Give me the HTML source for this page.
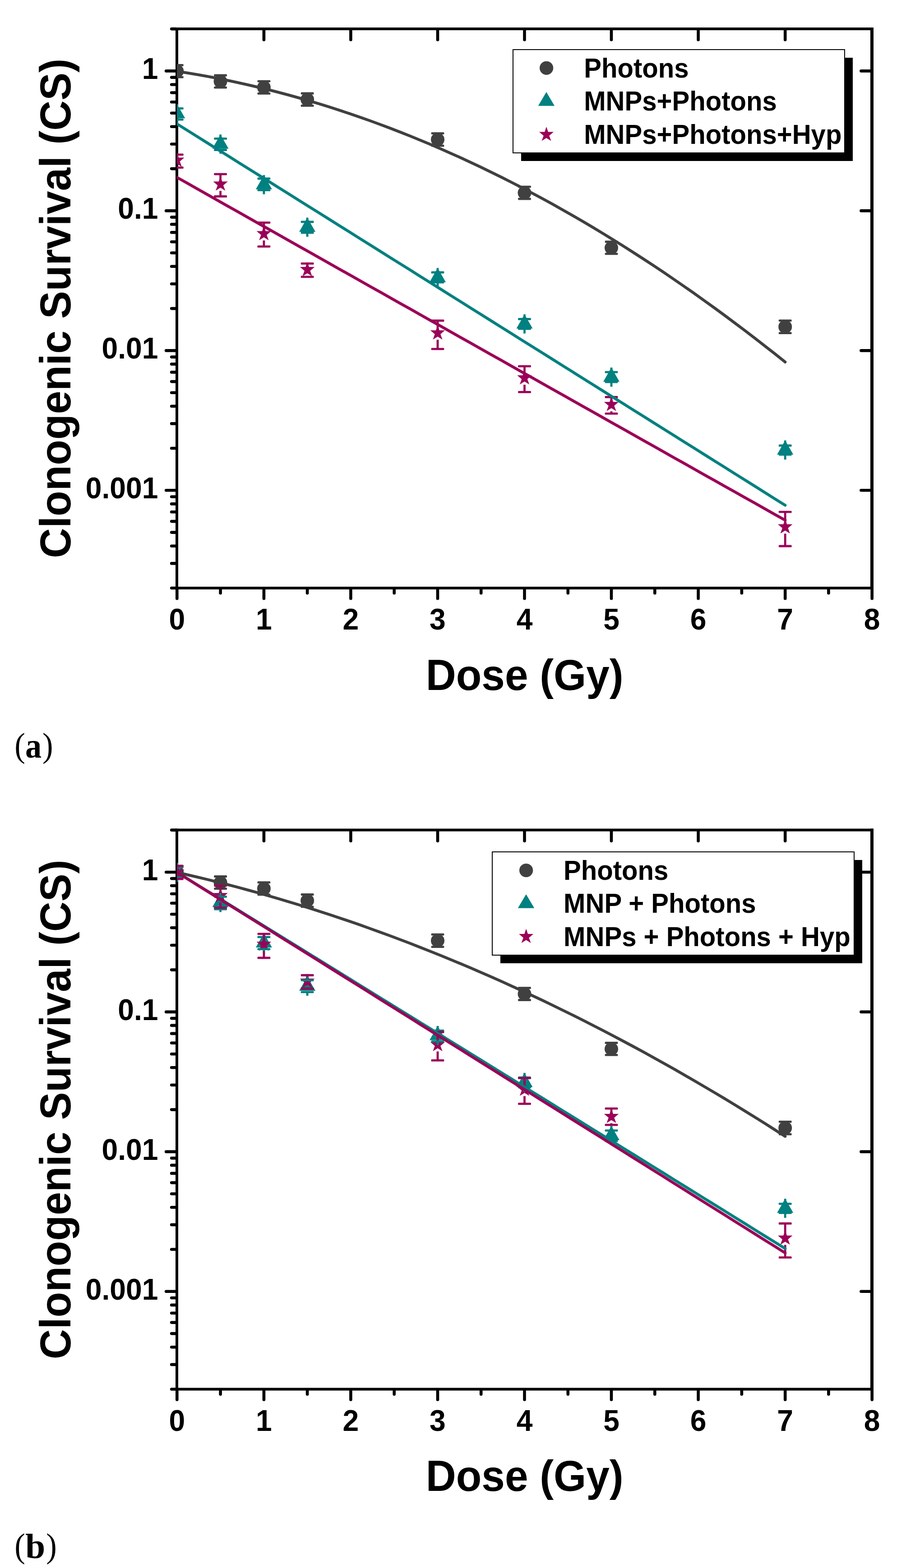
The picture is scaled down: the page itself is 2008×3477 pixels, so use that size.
<!DOCTYPE html>
<html lang="en"><head><meta charset="utf-8"><title>Clonogenic survival</title>
<style>
html,body{margin:0;padding:0;background:#fff;}
body{width:2008px;height:3477px;overflow:hidden;}
svg{display:block;}
</style></head><body>
<svg width="2008" height="3477" viewBox="0 0 2008 3477" role="img" aria-label="Clonogenic survival versus dose, panels a and b">
<defs>
<clipPath id="cpa"><rect x="392" y="61" width="1544" height="1246"/></clipPath>
<clipPath id="cpb"><rect x="392" y="1837.5" width="1544" height="1246"/></clipPath>
</defs>
<rect width="2008" height="3477" fill="#fff"/>
<g>
<rect x="389" y="61.0" width="6" height="1246.0" fill="#000"/>
<rect x="1929" y="61.0" width="7" height="1246.0" fill="#000"/>
<rect x="389" y="61.0" width="1547" height="6" fill="#000"/>
<rect x="389" y="1301.0" width="1547" height="6" fill="#000"/>
<line x1="368.2" y1="157.4" x2="390" y2="157.4" stroke="#000" stroke-width="6.6" stroke-linecap="round"/>
<line x1="1908.5" y1="157.4" x2="1931" y2="157.4" stroke="#000" stroke-width="6.6" stroke-linecap="round"/>
<line x1="368.2" y1="467.4" x2="390" y2="467.4" stroke="#000" stroke-width="6.6" stroke-linecap="round"/>
<line x1="1908.5" y1="467.4" x2="1931" y2="467.4" stroke="#000" stroke-width="6.6" stroke-linecap="round"/>
<line x1="368.2" y1="777.4" x2="390" y2="777.4" stroke="#000" stroke-width="6.6" stroke-linecap="round"/>
<line x1="1908.5" y1="777.4" x2="1931" y2="777.4" stroke="#000" stroke-width="6.6" stroke-linecap="round"/>
<line x1="368.2" y1="1087.3" x2="390" y2="1087.3" stroke="#000" stroke-width="6.6" stroke-linecap="round"/>
<line x1="1908.5" y1="1087.3" x2="1931" y2="1087.3" stroke="#000" stroke-width="6.6" stroke-linecap="round"/>
<line x1="380.2" y1="64.1" x2="390" y2="64.1" stroke="#000" stroke-width="6.6" stroke-linecap="round"/>
<line x1="380.2" y1="374.1" x2="390" y2="374.1" stroke="#000" stroke-width="6.6" stroke-linecap="round"/>
<line x1="380.2" y1="319.5" x2="390" y2="319.5" stroke="#000" stroke-width="6.6" stroke-linecap="round"/>
<line x1="380.2" y1="280.8" x2="390" y2="280.8" stroke="#000" stroke-width="6.6" stroke-linecap="round"/>
<line x1="380.2" y1="250.8" x2="390" y2="250.8" stroke="#000" stroke-width="6.6" stroke-linecap="round"/>
<line x1="380.2" y1="226.2" x2="390" y2="226.2" stroke="#000" stroke-width="6.6" stroke-linecap="round"/>
<line x1="380.2" y1="205.5" x2="390" y2="205.5" stroke="#000" stroke-width="6.6" stroke-linecap="round"/>
<line x1="380.2" y1="187.5" x2="390" y2="187.5" stroke="#000" stroke-width="6.6" stroke-linecap="round"/>
<line x1="380.2" y1="171.6" x2="390" y2="171.6" stroke="#000" stroke-width="6.6" stroke-linecap="round"/>
<line x1="380.2" y1="684.1" x2="390" y2="684.1" stroke="#000" stroke-width="6.6" stroke-linecap="round"/>
<line x1="380.2" y1="629.5" x2="390" y2="629.5" stroke="#000" stroke-width="6.6" stroke-linecap="round"/>
<line x1="380.2" y1="590.8" x2="390" y2="590.8" stroke="#000" stroke-width="6.6" stroke-linecap="round"/>
<line x1="380.2" y1="560.7" x2="390" y2="560.7" stroke="#000" stroke-width="6.6" stroke-linecap="round"/>
<line x1="380.2" y1="536.2" x2="390" y2="536.2" stroke="#000" stroke-width="6.6" stroke-linecap="round"/>
<line x1="380.2" y1="515.4" x2="390" y2="515.4" stroke="#000" stroke-width="6.6" stroke-linecap="round"/>
<line x1="380.2" y1="497.4" x2="390" y2="497.4" stroke="#000" stroke-width="6.6" stroke-linecap="round"/>
<line x1="380.2" y1="481.6" x2="390" y2="481.6" stroke="#000" stroke-width="6.6" stroke-linecap="round"/>
<line x1="380.2" y1="994.0" x2="390" y2="994.0" stroke="#000" stroke-width="6.6" stroke-linecap="round"/>
<line x1="380.2" y1="939.4" x2="390" y2="939.4" stroke="#000" stroke-width="6.6" stroke-linecap="round"/>
<line x1="380.2" y1="900.7" x2="390" y2="900.7" stroke="#000" stroke-width="6.6" stroke-linecap="round"/>
<line x1="380.2" y1="870.7" x2="390" y2="870.7" stroke="#000" stroke-width="6.6" stroke-linecap="round"/>
<line x1="380.2" y1="846.1" x2="390" y2="846.1" stroke="#000" stroke-width="6.6" stroke-linecap="round"/>
<line x1="380.2" y1="825.4" x2="390" y2="825.4" stroke="#000" stroke-width="6.6" stroke-linecap="round"/>
<line x1="380.2" y1="807.4" x2="390" y2="807.4" stroke="#000" stroke-width="6.6" stroke-linecap="round"/>
<line x1="380.2" y1="791.6" x2="390" y2="791.6" stroke="#000" stroke-width="6.6" stroke-linecap="round"/>
<line x1="380.2" y1="1304.0" x2="390" y2="1304.0" stroke="#000" stroke-width="6.6" stroke-linecap="round"/>
<line x1="380.2" y1="1249.4" x2="390" y2="1249.4" stroke="#000" stroke-width="6.6" stroke-linecap="round"/>
<line x1="380.2" y1="1210.7" x2="390" y2="1210.7" stroke="#000" stroke-width="6.6" stroke-linecap="round"/>
<line x1="380.2" y1="1180.6" x2="390" y2="1180.6" stroke="#000" stroke-width="6.6" stroke-linecap="round"/>
<line x1="380.2" y1="1156.1" x2="390" y2="1156.1" stroke="#000" stroke-width="6.6" stroke-linecap="round"/>
<line x1="380.2" y1="1135.3" x2="390" y2="1135.3" stroke="#000" stroke-width="6.6" stroke-linecap="round"/>
<line x1="380.2" y1="1117.4" x2="390" y2="1117.4" stroke="#000" stroke-width="6.6" stroke-linecap="round"/>
<line x1="380.2" y1="1101.5" x2="390" y2="1101.5" stroke="#000" stroke-width="6.6" stroke-linecap="round"/>
<line x1="392.3" y1="1305.0" x2="392.3" y2="1327.3" stroke="#000" stroke-width="6.6" stroke-linecap="round"/>
<line x1="584.9" y1="65.0" x2="584.9" y2="88.3" stroke="#000" stroke-width="6.6" stroke-linecap="round"/>
<line x1="584.9" y1="1305.0" x2="584.9" y2="1327.3" stroke="#000" stroke-width="6.6" stroke-linecap="round"/>
<line x1="777.4" y1="65.0" x2="777.4" y2="88.3" stroke="#000" stroke-width="6.6" stroke-linecap="round"/>
<line x1="777.4" y1="1305.0" x2="777.4" y2="1327.3" stroke="#000" stroke-width="6.6" stroke-linecap="round"/>
<line x1="970.0" y1="65.0" x2="970.0" y2="88.3" stroke="#000" stroke-width="6.6" stroke-linecap="round"/>
<line x1="970.0" y1="1305.0" x2="970.0" y2="1327.3" stroke="#000" stroke-width="6.6" stroke-linecap="round"/>
<line x1="1162.5" y1="65.0" x2="1162.5" y2="88.3" stroke="#000" stroke-width="6.6" stroke-linecap="round"/>
<line x1="1162.5" y1="1305.0" x2="1162.5" y2="1327.3" stroke="#000" stroke-width="6.6" stroke-linecap="round"/>
<line x1="1355.0" y1="65.0" x2="1355.0" y2="88.3" stroke="#000" stroke-width="6.6" stroke-linecap="round"/>
<line x1="1355.0" y1="1305.0" x2="1355.0" y2="1327.3" stroke="#000" stroke-width="6.6" stroke-linecap="round"/>
<line x1="1547.6" y1="65.0" x2="1547.6" y2="88.3" stroke="#000" stroke-width="6.6" stroke-linecap="round"/>
<line x1="1547.6" y1="1305.0" x2="1547.6" y2="1327.3" stroke="#000" stroke-width="6.6" stroke-linecap="round"/>
<line x1="1740.2" y1="65.0" x2="1740.2" y2="88.3" stroke="#000" stroke-width="6.6" stroke-linecap="round"/>
<line x1="1740.2" y1="1305.0" x2="1740.2" y2="1327.3" stroke="#000" stroke-width="6.6" stroke-linecap="round"/>
<line x1="1932.7" y1="1305.0" x2="1932.7" y2="1327.3" stroke="#000" stroke-width="6.6" stroke-linecap="round"/>
<line x1="488.6" y1="1305.0" x2="488.6" y2="1315.3" stroke="#000" stroke-width="6.6" stroke-linecap="round"/>
<line x1="681.1" y1="1305.0" x2="681.1" y2="1315.3" stroke="#000" stroke-width="6.6" stroke-linecap="round"/>
<line x1="873.7" y1="1305.0" x2="873.7" y2="1315.3" stroke="#000" stroke-width="6.6" stroke-linecap="round"/>
<line x1="1066.2" y1="1305.0" x2="1066.2" y2="1315.3" stroke="#000" stroke-width="6.6" stroke-linecap="round"/>
<line x1="1258.8" y1="1305.0" x2="1258.8" y2="1315.3" stroke="#000" stroke-width="6.6" stroke-linecap="round"/>
<line x1="1451.3" y1="1305.0" x2="1451.3" y2="1315.3" stroke="#000" stroke-width="6.6" stroke-linecap="round"/>
<line x1="1643.9" y1="1305.0" x2="1643.9" y2="1315.3" stroke="#000" stroke-width="6.6" stroke-linecap="round"/>
<line x1="1836.4" y1="1305.0" x2="1836.4" y2="1315.3" stroke="#000" stroke-width="6.6" stroke-linecap="round"/>
<text transform="translate(350.50,175.45) scale(0.96,1)" font-size="66.9" text-anchor="end" font-family="'Liberation Sans', sans-serif" font-weight="bold" xml:space="preserve">1</text>
<text transform="translate(350.50,485.41) scale(0.96,1)" font-size="66.9" text-anchor="end" font-family="'Liberation Sans', sans-serif" font-weight="bold" xml:space="preserve">0.1</text>
<text transform="translate(350.50,795.37) scale(0.96,1)" font-size="66.9" text-anchor="end" font-family="'Liberation Sans', sans-serif" font-weight="bold" xml:space="preserve">0.01</text>
<text transform="translate(350.50,1105.33) scale(0.96,1)" font-size="66.9" text-anchor="end" font-family="'Liberation Sans', sans-serif" font-weight="bold" xml:space="preserve">0.001</text>
<text transform="translate(392.30,1396.00) scale(0.96,1)" font-size="66.9" text-anchor="middle" font-family="'Liberation Sans', sans-serif" font-weight="bold" xml:space="preserve">0</text>
<text transform="translate(584.85,1396.00) scale(0.96,1)" font-size="66.9" text-anchor="middle" font-family="'Liberation Sans', sans-serif" font-weight="bold" xml:space="preserve">1</text>
<text transform="translate(777.40,1396.00) scale(0.96,1)" font-size="66.9" text-anchor="middle" font-family="'Liberation Sans', sans-serif" font-weight="bold" xml:space="preserve">2</text>
<text transform="translate(969.95,1396.00) scale(0.96,1)" font-size="66.9" text-anchor="middle" font-family="'Liberation Sans', sans-serif" font-weight="bold" xml:space="preserve">3</text>
<text transform="translate(1162.50,1396.00) scale(0.96,1)" font-size="66.9" text-anchor="middle" font-family="'Liberation Sans', sans-serif" font-weight="bold" xml:space="preserve">4</text>
<text transform="translate(1355.05,1396.00) scale(0.96,1)" font-size="66.9" text-anchor="middle" font-family="'Liberation Sans', sans-serif" font-weight="bold" xml:space="preserve">5</text>
<text transform="translate(1547.60,1396.00) scale(0.96,1)" font-size="66.9" text-anchor="middle" font-family="'Liberation Sans', sans-serif" font-weight="bold" xml:space="preserve">6</text>
<text transform="translate(1740.15,1396.00) scale(0.96,1)" font-size="66.9" text-anchor="middle" font-family="'Liberation Sans', sans-serif" font-weight="bold" xml:space="preserve">7</text>
<text transform="translate(1932.70,1396.00) scale(0.96,1)" font-size="66.9" text-anchor="middle" font-family="'Liberation Sans', sans-serif" font-weight="bold" xml:space="preserve">8</text>
<text transform="translate(1162.70,1529.70) scale(0.96,1)" font-size="96.6" text-anchor="middle" font-family="'Liberation Sans', sans-serif" font-weight="bold" xml:space="preserve">Dose (Gy)</text>
<text transform="translate(156.20,683.80) rotate(-90) scale(0.96,1)" font-size="96.6" text-anchor="middle" font-family="'Liberation Sans', sans-serif" font-weight="bold" xml:space="preserve">Clonogenic Survival (CS)</text>
<g clip-path="url(#cpa)">
<circle cx="392.3" cy="157.8" r="15" fill="#404040"/>
<circle cx="488.6" cy="180.6" r="15" fill="#404040"/>
<circle cx="584.9" cy="193.8" r="15" fill="#404040"/>
<circle cx="681.1" cy="220.6" r="15" fill="#404040"/>
<circle cx="970.0" cy="309.4" r="15" fill="#404040"/>
<circle cx="1162.5" cy="427.5" r="15" fill="#404040"/>
<circle cx="1355.0" cy="549.5" r="15" fill="#404040"/>
<circle cx="1740.2" cy="724.7" r="15" fill="#404040"/>
<polygon points="392.3,230.8 410.3,262.3 374.3,262.3" fill="#008080"/>
<polygon points="488.6,298.2 506.6,329.7 470.6,329.7" fill="#008080"/>
<polygon points="584.9,388.2 602.9,419.7 566.9,419.7" fill="#008080"/>
<polygon points="681.1,482.6 699.1,514.1 663.1,514.1" fill="#008080"/>
<polygon points="970.0,594.2 988.0,625.7 952.0,625.7" fill="#008080"/>
<polygon points="1162.5,697.0 1180.5,728.5 1144.5,728.5" fill="#008080"/>
<polygon points="1355.0,815.0 1373.0,846.5 1337.0,846.5" fill="#008080"/>
<polygon points="1740.2,976.6 1758.2,1008.1 1722.2,1008.1" fill="#008080"/>
<polygon points="392.3,338.1 396.2,349.6 408.5,349.6 398.6,358.1 402.9,369.9 392.3,363.4 381.7,369.9 386.0,358.1 376.1,349.6 388.4,349.6" fill="#9B0058"/>
<polygon points="488.6,391.0 492.5,402.5 504.8,402.5 494.9,411.0 499.2,422.8 488.6,416.3 478.0,422.8 482.3,411.0 472.4,402.5 484.7,402.5" fill="#9B0058"/>
<polygon points="584.9,500.9 588.8,512.4 601.1,512.4 591.1,520.9 595.5,532.7 584.9,526.2 574.2,532.7 578.6,520.9 568.6,512.4 581.0,512.4" fill="#9B0058"/>
<polygon points="681.1,580.6 685.0,592.1 697.3,592.1 687.4,600.6 691.7,612.4 681.1,605.9 670.5,612.4 674.8,600.6 664.9,592.1 677.2,592.1" fill="#9B0058"/>
<polygon points="970.0,721.1 973.9,732.6 986.2,732.6 976.2,741.1 980.6,752.9 970.0,746.4 959.4,752.9 963.7,741.1 953.8,732.6 966.1,732.6" fill="#9B0058"/>
<polygon points="1162.5,820.8 1166.4,832.3 1178.7,832.3 1168.8,840.8 1173.1,852.6 1162.5,846.1 1151.9,852.6 1156.2,840.8 1146.3,832.3 1158.6,832.3" fill="#9B0058"/>
<polygon points="1355.0,879.8 1359.0,891.3 1371.2,891.3 1361.3,899.8 1365.6,911.6 1355.0,905.1 1344.5,911.6 1348.8,899.8 1338.8,891.3 1351.1,891.3" fill="#9B0058"/>
<polygon points="1740.2,1151.1 1744.1,1162.6 1756.4,1162.6 1746.5,1171.1 1750.8,1182.9 1740.2,1176.4 1729.6,1182.9 1733.9,1171.1 1724.0,1162.6 1736.2,1162.6" fill="#9B0058"/>
<rect x="377.9" y="142.0" width="28.8" height="4.8" rx="1.5" fill="#404040"/>
<rect x="377.9" y="168.8" width="28.8" height="4.8" rx="1.5" fill="#404040"/>
<rect x="389.9" y="144.4" width="4.8" height="0.4" fill="#404040"/>
<rect x="389.9" y="170.8" width="4.8" height="0.4" fill="#404040"/>
<rect x="474.2" y="164.6" width="28.8" height="4.8" rx="1.5" fill="#404040"/>
<rect x="474.2" y="191.7" width="28.8" height="4.8" rx="1.5" fill="#404040"/>
<rect x="486.2" y="167.0" width="4.8" height="0.6" fill="#404040"/>
<rect x="486.2" y="193.6" width="4.8" height="0.5" fill="#404040"/>
<rect x="570.5" y="177.7" width="28.8" height="4.8" rx="1.5" fill="#404040"/>
<rect x="570.5" y="205.0" width="28.8" height="4.8" rx="1.5" fill="#404040"/>
<rect x="582.5" y="180.1" width="4.8" height="0.7" fill="#404040"/>
<rect x="582.5" y="206.8" width="4.8" height="0.6" fill="#404040"/>
<rect x="666.7" y="204.6" width="28.8" height="4.8" rx="1.5" fill="#404040"/>
<rect x="666.7" y="231.9" width="28.8" height="4.8" rx="1.5" fill="#404040"/>
<rect x="678.7" y="207.0" width="4.8" height="0.6" fill="#404040"/>
<rect x="678.7" y="233.6" width="4.8" height="0.7" fill="#404040"/>
<rect x="955.6" y="293.3" width="28.8" height="4.8" rx="1.5" fill="#404040"/>
<rect x="955.6" y="320.7" width="28.8" height="4.8" rx="1.5" fill="#404040"/>
<rect x="967.6" y="295.7" width="4.8" height="0.7" fill="#404040"/>
<rect x="967.6" y="322.4" width="4.8" height="0.7" fill="#404040"/>
<rect x="1148.1" y="411.7" width="28.8" height="4.8" rx="1.5" fill="#404040"/>
<rect x="1148.1" y="438.6" width="28.8" height="4.8" rx="1.5" fill="#404040"/>
<rect x="1160.1" y="414.1" width="4.8" height="0.4" fill="#404040"/>
<rect x="1160.1" y="440.5" width="4.8" height="0.5" fill="#404040"/>
<rect x="1340.6" y="533.6" width="28.8" height="4.8" rx="1.5" fill="#404040"/>
<rect x="1340.6" y="560.5" width="28.8" height="4.8" rx="1.5" fill="#404040"/>
<rect x="1352.6" y="536.0" width="4.8" height="0.5" fill="#404040"/>
<rect x="1352.6" y="562.5" width="4.8" height="0.4" fill="#404040"/>
<rect x="1725.8" y="708.4" width="28.8" height="4.8" rx="1.5" fill="#404040"/>
<rect x="1725.8" y="736.2" width="28.8" height="4.8" rx="1.5" fill="#404040"/>
<rect x="1737.8" y="710.8" width="4.8" height="0.9" fill="#404040"/>
<rect x="1737.8" y="737.7" width="4.8" height="0.9" fill="#404040"/>
<rect x="377.9" y="238.0" width="28.8" height="4.8" rx="1.5" fill="#008080"/>
<rect x="377.9" y="262.7" width="28.8" height="4.8" rx="1.5" fill="#008080"/>
<rect x="389.9" y="230.8" width="4.8" height="9.6" fill="#008080"/>
<rect x="389.9" y="265.1" width="4.8" height="8.2" fill="#008080"/>
<rect x="474.2" y="305.0" width="28.8" height="4.8" rx="1.5" fill="#008080"/>
<rect x="474.2" y="330.1" width="28.8" height="4.8" rx="1.5" fill="#008080"/>
<rect x="486.2" y="298.2" width="4.8" height="9.2" fill="#008080"/>
<rect x="486.2" y="332.5" width="4.8" height="8.2" fill="#008080"/>
<rect x="570.5" y="393.6" width="28.8" height="4.8" rx="1.5" fill="#008080"/>
<rect x="570.5" y="419.2" width="28.8" height="4.8" rx="1.5" fill="#008080"/>
<rect x="582.5" y="388.2" width="4.8" height="7.8" fill="#008080"/>
<rect x="582.5" y="421.6" width="4.8" height="9.1" fill="#008080"/>
<rect x="666.7" y="489.6" width="28.8" height="4.8" rx="1.5" fill="#008080"/>
<rect x="666.7" y="513.6" width="28.8" height="4.8" rx="1.5" fill="#008080"/>
<rect x="678.7" y="482.6" width="4.8" height="9.4" fill="#008080"/>
<rect x="678.7" y="516.0" width="4.8" height="9.1" fill="#008080"/>
<rect x="955.6" y="601.6" width="28.8" height="4.8" rx="1.5" fill="#008080"/>
<rect x="955.6" y="623.6" width="28.8" height="4.8" rx="1.5" fill="#008080"/>
<rect x="967.6" y="594.2" width="4.8" height="9.8" fill="#008080"/>
<rect x="967.6" y="626.0" width="4.8" height="10.7" fill="#008080"/>
<rect x="1148.1" y="705.1" width="28.8" height="4.8" rx="1.5" fill="#008080"/>
<rect x="1148.1" y="726.6" width="28.8" height="4.8" rx="1.5" fill="#008080"/>
<rect x="1160.1" y="697.0" width="4.8" height="10.5" fill="#008080"/>
<rect x="1160.1" y="729.0" width="4.8" height="10.5" fill="#008080"/>
<rect x="1340.6" y="822.7" width="28.8" height="4.8" rx="1.5" fill="#008080"/>
<rect x="1340.6" y="844.6" width="28.8" height="4.8" rx="1.5" fill="#008080"/>
<rect x="1352.6" y="815.0" width="4.8" height="10.1" fill="#008080"/>
<rect x="1352.6" y="847.0" width="4.8" height="10.5" fill="#008080"/>
<rect x="1725.8" y="985.6" width="28.8" height="4.8" rx="1.5" fill="#008080"/>
<rect x="1725.8" y="1005.6" width="28.8" height="4.8" rx="1.5" fill="#008080"/>
<rect x="1737.8" y="976.6" width="4.8" height="11.4" fill="#008080"/>
<rect x="1737.8" y="1008.0" width="4.8" height="11.1" fill="#008080"/>
<rect x="377.9" y="340.5" width="28.8" height="4.8" rx="1.5" fill="#9B0058"/>
<rect x="377.9" y="369.3" width="28.8" height="4.8" rx="1.5" fill="#9B0058"/>
<rect x="389.9" y="342.9" width="4.8" height="3.0" fill="#9B0058"/>
<rect x="389.9" y="370.4" width="4.8" height="1.3" fill="#9B0058"/>
<rect x="474.2" y="383.7" width="28.8" height="4.8" rx="1.5" fill="#9B0058"/>
<rect x="474.2" y="433.1" width="28.8" height="4.8" rx="1.5" fill="#9B0058"/>
<rect x="486.2" y="386.1" width="4.8" height="12.7" fill="#9B0058"/>
<rect x="486.2" y="423.3" width="4.8" height="12.2" fill="#9B0058"/>
<rect x="570.5" y="491.3" width="28.8" height="4.8" rx="1.5" fill="#9B0058"/>
<rect x="570.5" y="544.3" width="28.8" height="4.8" rx="1.5" fill="#9B0058"/>
<rect x="582.5" y="493.7" width="4.8" height="15.0" fill="#9B0058"/>
<rect x="582.5" y="533.2" width="4.8" height="13.5" fill="#9B0058"/>
<rect x="666.7" y="582.0" width="28.8" height="4.8" rx="1.5" fill="#9B0058"/>
<rect x="666.7" y="611.5" width="28.8" height="4.8" rx="1.5" fill="#9B0058"/>
<rect x="678.7" y="584.4" width="4.8" height="4.0" fill="#9B0058"/>
<rect x="678.7" y="612.9" width="4.8" height="1.0" fill="#9B0058"/>
<rect x="955.6" y="708.6" width="28.8" height="4.8" rx="1.5" fill="#9B0058"/>
<rect x="955.6" y="771.4" width="28.8" height="4.8" rx="1.5" fill="#9B0058"/>
<rect x="967.6" y="711.0" width="4.8" height="17.9" fill="#9B0058"/>
<rect x="967.6" y="753.4" width="4.8" height="20.4" fill="#9B0058"/>
<rect x="1148.1" y="809.8" width="28.8" height="4.8" rx="1.5" fill="#9B0058"/>
<rect x="1148.1" y="867.0" width="28.8" height="4.8" rx="1.5" fill="#9B0058"/>
<rect x="1160.1" y="812.2" width="4.8" height="16.4" fill="#9B0058"/>
<rect x="1160.1" y="853.1" width="4.8" height="16.3" fill="#9B0058"/>
<rect x="1340.6" y="878.1" width="28.8" height="4.8" rx="1.5" fill="#9B0058"/>
<rect x="1340.6" y="914.7" width="28.8" height="4.8" rx="1.5" fill="#9B0058"/>
<rect x="1352.6" y="880.5" width="4.8" height="7.1" fill="#9B0058"/>
<rect x="1352.6" y="912.1" width="4.8" height="5.0" fill="#9B0058"/>
<rect x="1725.8" y="1132.7" width="28.8" height="4.8" rx="1.5" fill="#9B0058"/>
<rect x="1725.8" y="1208.6" width="28.8" height="4.8" rx="1.5" fill="#9B0058"/>
<rect x="1737.8" y="1135.1" width="4.8" height="23.8" fill="#9B0058"/>
<rect x="1737.8" y="1183.4" width="4.8" height="27.6" fill="#9B0058"/>
<path d="M392.3,158.0 L414.8,161.6 L437.2,165.4 L459.7,169.4 L482.2,173.7 L504.6,178.3 L527.1,183.1 L549.5,188.1 L572.0,193.4 L594.5,198.9 L616.9,204.6 L639.4,210.6 L661.9,216.9 L684.3,223.4 L706.8,230.1 L729.3,237.1 L751.7,244.3 L774.2,251.8 L796.7,259.5 L819.1,267.4 L841.6,275.6 L864.0,284.0 L886.5,292.7 L909.0,301.6 L931.4,310.8 L953.9,320.2 L976.4,329.9 L998.8,339.8 L1021.3,349.9 L1043.8,360.3 L1066.2,370.9 L1088.7,381.8 L1111.2,392.9 L1133.6,404.2 L1156.1,415.8 L1178.5,427.7 L1201.0,439.8 L1223.5,452.1 L1245.9,464.7 L1268.4,477.5 L1290.9,490.5 L1313.3,503.8 L1335.8,517.4 L1358.3,531.2 L1380.7,545.2 L1403.2,559.5 L1425.7,574.0 L1448.1,588.7 L1470.6,603.7 L1493.0,619.0 L1515.5,634.5 L1538.0,650.2 L1560.4,666.2 L1582.9,682.4 L1605.4,698.9 L1627.8,715.6 L1650.3,732.5 L1672.8,749.7 L1695.2,767.2 L1717.7,784.8 L1740.2,802.8" fill="none" stroke="#404040" stroke-width="6.3" stroke-linecap="round" stroke-linejoin="round"/>
<path d="M392.3,274.8 L414.8,288.9 L437.2,302.9 L459.7,317.0 L482.2,331.1 L504.6,345.2 L527.1,359.3 L549.5,373.4 L572.0,387.4 L594.5,401.5 L616.9,415.6 L639.4,429.7 L661.9,443.8 L684.3,457.9 L706.8,471.9 L729.3,486.0 L751.7,500.1 L774.2,514.2 L796.7,528.3 L819.1,542.4 L841.6,556.5 L864.0,570.6 L886.5,584.6 L909.0,598.7 L931.4,612.8 L953.9,626.9 L976.4,641.0 L998.8,655.1 L1021.3,669.2 L1043.8,683.3 L1066.2,697.4 L1088.7,711.5 L1111.2,725.6 L1133.6,739.7 L1156.1,753.8 L1178.5,767.8 L1201.0,781.9 L1223.5,796.0 L1245.9,810.1 L1268.4,824.2 L1290.9,838.3 L1313.3,852.4 L1335.8,866.5 L1358.3,880.6 L1380.7,894.7 L1403.2,908.8 L1425.7,922.9 L1448.1,937.0 L1470.6,951.1 L1493.0,965.2 L1515.5,979.3 L1538.0,993.4 L1560.4,1007.5 L1582.9,1021.6 L1605.4,1035.7 L1627.8,1049.8 L1650.3,1063.9 L1672.8,1078.0 L1695.2,1092.1 L1717.7,1106.3 L1740.2,1120.4" fill="none" stroke="#008080" stroke-width="6.3" stroke-linecap="round" stroke-linejoin="round"/>
<path d="M392.3,393.4 L414.8,406.1 L437.2,418.8 L459.7,431.5 L482.2,444.2 L504.6,456.9 L527.1,469.6 L549.5,482.2 L572.0,494.9 L594.5,507.6 L616.9,520.3 L639.4,533.0 L661.9,545.7 L684.3,558.3 L706.8,571.0 L729.3,583.7 L751.7,596.4 L774.2,609.1 L796.7,621.7 L819.1,634.4 L841.6,647.1 L864.0,659.8 L886.5,672.4 L909.0,685.1 L931.4,697.8 L953.9,710.5 L976.4,723.1 L998.8,735.8 L1021.3,748.5 L1043.8,761.1 L1066.2,773.8 L1088.7,786.5 L1111.2,799.1 L1133.6,811.8 L1156.1,824.5 L1178.5,837.1 L1201.0,849.8 L1223.5,862.5 L1245.9,875.1 L1268.4,887.8 L1290.9,900.5 L1313.3,913.1 L1335.8,925.8 L1358.3,938.4 L1380.7,951.1 L1403.2,963.8 L1425.7,976.4 L1448.1,989.1 L1470.6,1001.7 L1493.0,1014.4 L1515.5,1027.1 L1538.0,1039.7 L1560.4,1052.4 L1582.9,1065.0 L1605.4,1077.7 L1627.8,1090.3 L1650.3,1103.0 L1672.8,1115.6 L1695.2,1128.3 L1717.7,1140.9 L1740.2,1153.6" fill="none" stroke="#9B0058" stroke-width="6.3" stroke-linecap="round" stroke-linejoin="round"/>
</g>
<rect x="1155" y="128" width="735" height="229" fill="#000"/>
<rect x="1137" y="110" width="735" height="229" fill="#fff" stroke="#000" stroke-width="2"/>
<text transform="translate(1294.20,171.80) scale(0.96,1)" font-size="60.5" text-anchor="start" font-family="'Liberation Sans', sans-serif" font-weight="bold" xml:space="preserve">Photons</text>
<text transform="translate(1294.20,245.00) scale(0.96,1)" font-size="60.5" text-anchor="start" font-family="'Liberation Sans', sans-serif" font-weight="bold" xml:space="preserve">MNPs+Photons</text>
<text transform="translate(1294.20,319.20) scale(0.96,1)" font-size="60.5" text-anchor="start" font-family="'Liberation Sans', sans-serif" font-weight="bold" xml:space="preserve">MNPs+Photons+Hyp</text>
<circle cx="1211.1" cy="150.8" r="15.1" fill="#404040"/>
<polygon points="1210.9,204.0 1229.1,234.8 1192.8,234.8" fill="#008080"/>
<polygon points="1211.0,281.1 1214.9,292.5 1227.0,292.5 1217.2,300.9 1221.5,312.5 1211.0,306.1 1200.5,312.5 1204.8,300.9 1195.0,292.5 1207.1,292.5" fill="#9B0058"/>
</g>
<g>
<rect x="389" y="1837.5" width="6" height="1246.0" fill="#000"/>
<rect x="1929" y="1837.5" width="7" height="1246.0" fill="#000"/>
<rect x="389" y="1837.5" width="1547" height="6" fill="#000"/>
<rect x="389" y="3077.5" width="1547" height="6" fill="#000"/>
<line x1="368.2" y1="1934.0" x2="390" y2="1934.0" stroke="#000" stroke-width="6.6" stroke-linecap="round"/>
<line x1="1908.5" y1="1934.0" x2="1931" y2="1934.0" stroke="#000" stroke-width="6.6" stroke-linecap="round"/>
<line x1="368.2" y1="2243.9" x2="390" y2="2243.9" stroke="#000" stroke-width="6.6" stroke-linecap="round"/>
<line x1="1908.5" y1="2243.9" x2="1931" y2="2243.9" stroke="#000" stroke-width="6.6" stroke-linecap="round"/>
<line x1="368.2" y1="2553.9" x2="390" y2="2553.9" stroke="#000" stroke-width="6.6" stroke-linecap="round"/>
<line x1="1908.5" y1="2553.9" x2="1931" y2="2553.9" stroke="#000" stroke-width="6.6" stroke-linecap="round"/>
<line x1="368.2" y1="2863.8" x2="390" y2="2863.8" stroke="#000" stroke-width="6.6" stroke-linecap="round"/>
<line x1="1908.5" y1="2863.8" x2="1931" y2="2863.8" stroke="#000" stroke-width="6.6" stroke-linecap="round"/>
<line x1="380.2" y1="1840.6" x2="390" y2="1840.6" stroke="#000" stroke-width="6.6" stroke-linecap="round"/>
<line x1="380.2" y1="2150.6" x2="390" y2="2150.6" stroke="#000" stroke-width="6.6" stroke-linecap="round"/>
<line x1="380.2" y1="2096.0" x2="390" y2="2096.0" stroke="#000" stroke-width="6.6" stroke-linecap="round"/>
<line x1="380.2" y1="2057.3" x2="390" y2="2057.3" stroke="#000" stroke-width="6.6" stroke-linecap="round"/>
<line x1="380.2" y1="2027.3" x2="390" y2="2027.3" stroke="#000" stroke-width="6.6" stroke-linecap="round"/>
<line x1="380.2" y1="2002.7" x2="390" y2="2002.7" stroke="#000" stroke-width="6.6" stroke-linecap="round"/>
<line x1="380.2" y1="1982.0" x2="390" y2="1982.0" stroke="#000" stroke-width="6.6" stroke-linecap="round"/>
<line x1="380.2" y1="1964.0" x2="390" y2="1964.0" stroke="#000" stroke-width="6.6" stroke-linecap="round"/>
<line x1="380.2" y1="1948.1" x2="390" y2="1948.1" stroke="#000" stroke-width="6.6" stroke-linecap="round"/>
<line x1="380.2" y1="2460.6" x2="390" y2="2460.6" stroke="#000" stroke-width="6.6" stroke-linecap="round"/>
<line x1="380.2" y1="2406.0" x2="390" y2="2406.0" stroke="#000" stroke-width="6.6" stroke-linecap="round"/>
<line x1="380.2" y1="2367.3" x2="390" y2="2367.3" stroke="#000" stroke-width="6.6" stroke-linecap="round"/>
<line x1="380.2" y1="2337.2" x2="390" y2="2337.2" stroke="#000" stroke-width="6.6" stroke-linecap="round"/>
<line x1="380.2" y1="2312.7" x2="390" y2="2312.7" stroke="#000" stroke-width="6.6" stroke-linecap="round"/>
<line x1="380.2" y1="2291.9" x2="390" y2="2291.9" stroke="#000" stroke-width="6.6" stroke-linecap="round"/>
<line x1="380.2" y1="2273.9" x2="390" y2="2273.9" stroke="#000" stroke-width="6.6" stroke-linecap="round"/>
<line x1="380.2" y1="2258.1" x2="390" y2="2258.1" stroke="#000" stroke-width="6.6" stroke-linecap="round"/>
<line x1="380.2" y1="2770.5" x2="390" y2="2770.5" stroke="#000" stroke-width="6.6" stroke-linecap="round"/>
<line x1="380.2" y1="2715.9" x2="390" y2="2715.9" stroke="#000" stroke-width="6.6" stroke-linecap="round"/>
<line x1="380.2" y1="2677.2" x2="390" y2="2677.2" stroke="#000" stroke-width="6.6" stroke-linecap="round"/>
<line x1="380.2" y1="2647.2" x2="390" y2="2647.2" stroke="#000" stroke-width="6.6" stroke-linecap="round"/>
<line x1="380.2" y1="2622.6" x2="390" y2="2622.6" stroke="#000" stroke-width="6.6" stroke-linecap="round"/>
<line x1="380.2" y1="2601.9" x2="390" y2="2601.9" stroke="#000" stroke-width="6.6" stroke-linecap="round"/>
<line x1="380.2" y1="2583.9" x2="390" y2="2583.9" stroke="#000" stroke-width="6.6" stroke-linecap="round"/>
<line x1="380.2" y1="2568.1" x2="390" y2="2568.1" stroke="#000" stroke-width="6.6" stroke-linecap="round"/>
<line x1="380.2" y1="3080.5" x2="390" y2="3080.5" stroke="#000" stroke-width="6.6" stroke-linecap="round"/>
<line x1="380.2" y1="3025.9" x2="390" y2="3025.9" stroke="#000" stroke-width="6.6" stroke-linecap="round"/>
<line x1="380.2" y1="2987.2" x2="390" y2="2987.2" stroke="#000" stroke-width="6.6" stroke-linecap="round"/>
<line x1="380.2" y1="2957.1" x2="390" y2="2957.1" stroke="#000" stroke-width="6.6" stroke-linecap="round"/>
<line x1="380.2" y1="2932.6" x2="390" y2="2932.6" stroke="#000" stroke-width="6.6" stroke-linecap="round"/>
<line x1="380.2" y1="2911.8" x2="390" y2="2911.8" stroke="#000" stroke-width="6.6" stroke-linecap="round"/>
<line x1="380.2" y1="2893.9" x2="390" y2="2893.9" stroke="#000" stroke-width="6.6" stroke-linecap="round"/>
<line x1="380.2" y1="2878.0" x2="390" y2="2878.0" stroke="#000" stroke-width="6.6" stroke-linecap="round"/>
<line x1="392.3" y1="3081.5" x2="392.3" y2="3103.8" stroke="#000" stroke-width="6.6" stroke-linecap="round"/>
<line x1="584.9" y1="1841.5" x2="584.9" y2="1864.8" stroke="#000" stroke-width="6.6" stroke-linecap="round"/>
<line x1="584.9" y1="3081.5" x2="584.9" y2="3103.8" stroke="#000" stroke-width="6.6" stroke-linecap="round"/>
<line x1="777.4" y1="1841.5" x2="777.4" y2="1864.8" stroke="#000" stroke-width="6.6" stroke-linecap="round"/>
<line x1="777.4" y1="3081.5" x2="777.4" y2="3103.8" stroke="#000" stroke-width="6.6" stroke-linecap="round"/>
<line x1="970.0" y1="1841.5" x2="970.0" y2="1864.8" stroke="#000" stroke-width="6.6" stroke-linecap="round"/>
<line x1="970.0" y1="3081.5" x2="970.0" y2="3103.8" stroke="#000" stroke-width="6.6" stroke-linecap="round"/>
<line x1="1162.5" y1="1841.5" x2="1162.5" y2="1864.8" stroke="#000" stroke-width="6.6" stroke-linecap="round"/>
<line x1="1162.5" y1="3081.5" x2="1162.5" y2="3103.8" stroke="#000" stroke-width="6.6" stroke-linecap="round"/>
<line x1="1355.0" y1="1841.5" x2="1355.0" y2="1864.8" stroke="#000" stroke-width="6.6" stroke-linecap="round"/>
<line x1="1355.0" y1="3081.5" x2="1355.0" y2="3103.8" stroke="#000" stroke-width="6.6" stroke-linecap="round"/>
<line x1="1547.6" y1="1841.5" x2="1547.6" y2="1864.8" stroke="#000" stroke-width="6.6" stroke-linecap="round"/>
<line x1="1547.6" y1="3081.5" x2="1547.6" y2="3103.8" stroke="#000" stroke-width="6.6" stroke-linecap="round"/>
<line x1="1740.2" y1="1841.5" x2="1740.2" y2="1864.8" stroke="#000" stroke-width="6.6" stroke-linecap="round"/>
<line x1="1740.2" y1="3081.5" x2="1740.2" y2="3103.8" stroke="#000" stroke-width="6.6" stroke-linecap="round"/>
<line x1="1932.7" y1="3081.5" x2="1932.7" y2="3103.8" stroke="#000" stroke-width="6.6" stroke-linecap="round"/>
<line x1="488.6" y1="3081.5" x2="488.6" y2="3091.8" stroke="#000" stroke-width="6.6" stroke-linecap="round"/>
<line x1="681.1" y1="3081.5" x2="681.1" y2="3091.8" stroke="#000" stroke-width="6.6" stroke-linecap="round"/>
<line x1="873.7" y1="3081.5" x2="873.7" y2="3091.8" stroke="#000" stroke-width="6.6" stroke-linecap="round"/>
<line x1="1066.2" y1="3081.5" x2="1066.2" y2="3091.8" stroke="#000" stroke-width="6.6" stroke-linecap="round"/>
<line x1="1258.8" y1="3081.5" x2="1258.8" y2="3091.8" stroke="#000" stroke-width="6.6" stroke-linecap="round"/>
<line x1="1451.3" y1="3081.5" x2="1451.3" y2="3091.8" stroke="#000" stroke-width="6.6" stroke-linecap="round"/>
<line x1="1643.9" y1="3081.5" x2="1643.9" y2="3091.8" stroke="#000" stroke-width="6.6" stroke-linecap="round"/>
<line x1="1836.4" y1="3081.5" x2="1836.4" y2="3091.8" stroke="#000" stroke-width="6.6" stroke-linecap="round"/>
<text transform="translate(350.50,1951.95) scale(0.96,1)" font-size="66.9" text-anchor="end" font-family="'Liberation Sans', sans-serif" font-weight="bold" xml:space="preserve">1</text>
<text transform="translate(350.50,2261.91) scale(0.96,1)" font-size="66.9" text-anchor="end" font-family="'Liberation Sans', sans-serif" font-weight="bold" xml:space="preserve">0.1</text>
<text transform="translate(350.50,2571.87) scale(0.96,1)" font-size="66.9" text-anchor="end" font-family="'Liberation Sans', sans-serif" font-weight="bold" xml:space="preserve">0.01</text>
<text transform="translate(350.50,2881.83) scale(0.96,1)" font-size="66.9" text-anchor="end" font-family="'Liberation Sans', sans-serif" font-weight="bold" xml:space="preserve">0.001</text>
<text transform="translate(392.30,3172.50) scale(0.96,1)" font-size="66.9" text-anchor="middle" font-family="'Liberation Sans', sans-serif" font-weight="bold" xml:space="preserve">0</text>
<text transform="translate(584.85,3172.50) scale(0.96,1)" font-size="66.9" text-anchor="middle" font-family="'Liberation Sans', sans-serif" font-weight="bold" xml:space="preserve">1</text>
<text transform="translate(777.40,3172.50) scale(0.96,1)" font-size="66.9" text-anchor="middle" font-family="'Liberation Sans', sans-serif" font-weight="bold" xml:space="preserve">2</text>
<text transform="translate(969.95,3172.50) scale(0.96,1)" font-size="66.9" text-anchor="middle" font-family="'Liberation Sans', sans-serif" font-weight="bold" xml:space="preserve">3</text>
<text transform="translate(1162.50,3172.50) scale(0.96,1)" font-size="66.9" text-anchor="middle" font-family="'Liberation Sans', sans-serif" font-weight="bold" xml:space="preserve">4</text>
<text transform="translate(1355.05,3172.50) scale(0.96,1)" font-size="66.9" text-anchor="middle" font-family="'Liberation Sans', sans-serif" font-weight="bold" xml:space="preserve">5</text>
<text transform="translate(1547.60,3172.50) scale(0.96,1)" font-size="66.9" text-anchor="middle" font-family="'Liberation Sans', sans-serif" font-weight="bold" xml:space="preserve">6</text>
<text transform="translate(1740.15,3172.50) scale(0.96,1)" font-size="66.9" text-anchor="middle" font-family="'Liberation Sans', sans-serif" font-weight="bold" xml:space="preserve">7</text>
<text transform="translate(1932.70,3172.50) scale(0.96,1)" font-size="66.9" text-anchor="middle" font-family="'Liberation Sans', sans-serif" font-weight="bold" xml:space="preserve">8</text>
<text transform="translate(1162.70,3306.20) scale(0.96,1)" font-size="96.6" text-anchor="middle" font-family="'Liberation Sans', sans-serif" font-weight="bold" xml:space="preserve">Dose (Gy)</text>
<text transform="translate(156.20,2460.30) rotate(-90) scale(0.96,1)" font-size="96.6" text-anchor="middle" font-family="'Liberation Sans', sans-serif" font-weight="bold" xml:space="preserve">Clonogenic Survival (CS)</text>
<g clip-path="url(#cpb)">
<circle cx="392.3" cy="1934.3" r="15" fill="#404040"/>
<circle cx="488.6" cy="1957.1" r="15" fill="#404040"/>
<circle cx="584.9" cy="1970.3" r="15" fill="#404040"/>
<circle cx="681.1" cy="1997.1" r="15" fill="#404040"/>
<circle cx="970.0" cy="2085.9" r="15" fill="#404040"/>
<circle cx="1162.5" cy="2204.0" r="15" fill="#404040"/>
<circle cx="1355.0" cy="2326.0" r="15" fill="#404040"/>
<circle cx="1740.2" cy="2501.2" r="15" fill="#404040"/>
<polygon points="392.3,1913.4 410.3,1944.9 374.3,1944.9" fill="#008080"/>
<polygon points="488.6,1979.9 506.6,2011.4 470.6,2011.4" fill="#008080"/>
<polygon points="584.9,2069.5 602.9,2101.0 566.9,2101.0" fill="#008080"/>
<polygon points="681.1,2165.5 699.1,2197.0 663.1,2197.0" fill="#008080"/>
<polygon points="970.0,2275.0 988.0,2306.5 952.0,2306.5" fill="#008080"/>
<polygon points="1162.5,2379.1 1180.5,2410.6 1144.5,2410.6" fill="#008080"/>
<polygon points="1355.0,2496.8 1373.0,2528.3 1337.0,2528.3" fill="#008080"/>
<polygon points="1740.2,2658.1 1758.2,2689.6 1722.2,2689.6" fill="#008080"/>
<polygon points="392.3,1916.6 396.2,1928.1 408.5,1928.1 398.6,1936.6 402.9,1948.4 392.3,1941.9 381.7,1948.4 386.0,1936.6 376.1,1928.1 388.4,1928.1" fill="#9B0058"/>
<polygon points="488.6,1968.7 492.5,1980.2 504.8,1980.2 494.9,1988.7 499.2,2000.5 488.6,1994.0 478.0,2000.5 482.3,1988.7 472.4,1980.2 484.7,1980.2" fill="#9B0058"/>
<polygon points="584.9,2076.8 588.8,2088.3 601.1,2088.3 591.1,2096.8 595.5,2108.6 584.9,2102.1 574.2,2108.6 578.6,2096.8 568.6,2088.3 581.0,2088.3" fill="#9B0058"/>
<polygon points="681.1,2158.5 685.0,2170.0 697.3,2170.0 687.4,2178.5 691.7,2190.3 681.1,2183.8 670.5,2190.3 674.8,2178.5 664.9,2170.0 677.2,2170.0" fill="#9B0058"/>
<polygon points="970.0,2299.2 973.9,2310.7 986.2,2310.7 976.2,2319.2 980.6,2331.0 970.0,2324.5 959.4,2331.0 963.7,2319.2 953.8,2310.7 966.1,2310.7" fill="#9B0058"/>
<polygon points="1162.5,2398.2 1166.4,2409.7 1178.7,2409.7 1168.8,2418.2 1173.1,2430.0 1162.5,2423.5 1151.9,2430.0 1156.2,2418.2 1146.3,2409.7 1158.6,2409.7" fill="#9B0058"/>
<polygon points="1355.0,2458.4 1359.0,2469.9 1371.2,2469.9 1361.3,2478.4 1365.6,2490.2 1355.0,2483.7 1344.5,2490.2 1348.8,2478.4 1338.8,2469.9 1351.1,2469.9" fill="#9B0058"/>
<polygon points="1740.2,2728.2 1744.1,2739.7 1756.4,2739.7 1746.5,2748.2 1750.8,2760.0 1740.2,2753.5 1729.6,2760.0 1733.9,2748.2 1724.0,2739.7 1736.2,2739.7" fill="#9B0058"/>
<rect x="377.9" y="1918.5" width="28.8" height="4.8" rx="1.5" fill="#404040"/>
<rect x="377.9" y="1945.3" width="28.8" height="4.8" rx="1.5" fill="#404040"/>
<rect x="389.9" y="1920.9" width="4.8" height="0.4" fill="#404040"/>
<rect x="389.9" y="1947.3" width="4.8" height="0.4" fill="#404040"/>
<rect x="474.2" y="1941.1" width="28.8" height="4.8" rx="1.5" fill="#404040"/>
<rect x="474.2" y="1968.2" width="28.8" height="4.8" rx="1.5" fill="#404040"/>
<rect x="486.2" y="1943.5" width="4.8" height="0.6" fill="#404040"/>
<rect x="486.2" y="1970.1" width="4.8" height="0.5" fill="#404040"/>
<rect x="570.5" y="1954.2" width="28.8" height="4.8" rx="1.5" fill="#404040"/>
<rect x="570.5" y="1981.5" width="28.8" height="4.8" rx="1.5" fill="#404040"/>
<rect x="582.5" y="1956.6" width="4.8" height="0.7" fill="#404040"/>
<rect x="582.5" y="1983.3" width="4.8" height="0.6" fill="#404040"/>
<rect x="666.7" y="1981.1" width="28.8" height="4.8" rx="1.5" fill="#404040"/>
<rect x="666.7" y="2008.4" width="28.8" height="4.8" rx="1.5" fill="#404040"/>
<rect x="678.7" y="1983.5" width="4.8" height="0.6" fill="#404040"/>
<rect x="678.7" y="2010.1" width="4.8" height="0.7" fill="#404040"/>
<rect x="955.6" y="2069.8" width="28.8" height="4.8" rx="1.5" fill="#404040"/>
<rect x="955.6" y="2097.2" width="28.8" height="4.8" rx="1.5" fill="#404040"/>
<rect x="967.6" y="2072.2" width="4.8" height="0.7" fill="#404040"/>
<rect x="967.6" y="2098.9" width="4.8" height="0.7" fill="#404040"/>
<rect x="1148.1" y="2188.2" width="28.8" height="4.8" rx="1.5" fill="#404040"/>
<rect x="1148.1" y="2215.1" width="28.8" height="4.8" rx="1.5" fill="#404040"/>
<rect x="1160.1" y="2190.6" width="4.8" height="0.4" fill="#404040"/>
<rect x="1160.1" y="2217.0" width="4.8" height="0.5" fill="#404040"/>
<rect x="1340.6" y="2310.1" width="28.8" height="4.8" rx="1.5" fill="#404040"/>
<rect x="1340.6" y="2337.0" width="28.8" height="4.8" rx="1.5" fill="#404040"/>
<rect x="1352.6" y="2312.5" width="4.8" height="0.5" fill="#404040"/>
<rect x="1352.6" y="2339.0" width="4.8" height="0.4" fill="#404040"/>
<rect x="1725.8" y="2484.9" width="28.8" height="4.8" rx="1.5" fill="#404040"/>
<rect x="1725.8" y="2512.7" width="28.8" height="4.8" rx="1.5" fill="#404040"/>
<rect x="1737.8" y="2487.3" width="4.8" height="0.9" fill="#404040"/>
<rect x="1737.8" y="2514.2" width="4.8" height="0.9" fill="#404040"/>
<rect x="377.9" y="1920.6" width="28.8" height="4.8" rx="1.5" fill="#008080"/>
<rect x="377.9" y="1943.6" width="28.8" height="4.8" rx="1.5" fill="#008080"/>
<rect x="389.9" y="1913.4" width="4.8" height="9.6" fill="#008080"/>
<rect x="389.9" y="1946.0" width="4.8" height="9.9" fill="#008080"/>
<rect x="474.2" y="1986.0" width="28.8" height="4.8" rx="1.5" fill="#008080"/>
<rect x="474.2" y="2013.8" width="28.8" height="4.8" rx="1.5" fill="#008080"/>
<rect x="486.2" y="1979.9" width="4.8" height="8.5" fill="#008080"/>
<rect x="486.2" y="2016.2" width="4.8" height="6.2" fill="#008080"/>
<rect x="570.5" y="2075.4" width="28.8" height="4.8" rx="1.5" fill="#008080"/>
<rect x="570.5" y="2102.2" width="28.8" height="4.8" rx="1.5" fill="#008080"/>
<rect x="582.5" y="2069.5" width="4.8" height="8.3" fill="#008080"/>
<rect x="582.5" y="2104.6" width="4.8" height="7.4" fill="#008080"/>
<rect x="666.7" y="2171.3" width="28.8" height="4.8" rx="1.5" fill="#008080"/>
<rect x="666.7" y="2197.5" width="28.8" height="4.8" rx="1.5" fill="#008080"/>
<rect x="678.7" y="2165.5" width="4.8" height="8.2" fill="#008080"/>
<rect x="678.7" y="2199.9" width="4.8" height="8.1" fill="#008080"/>
<rect x="955.6" y="2283.0" width="28.8" height="4.8" rx="1.5" fill="#008080"/>
<rect x="955.6" y="2307.0" width="28.8" height="4.8" rx="1.5" fill="#008080"/>
<rect x="967.6" y="2275.0" width="4.8" height="10.4" fill="#008080"/>
<rect x="967.6" y="2309.4" width="4.8" height="8.1" fill="#008080"/>
<rect x="1148.1" y="2387.0" width="28.8" height="4.8" rx="1.5" fill="#008080"/>
<rect x="1148.1" y="2408.6" width="28.8" height="4.8" rx="1.5" fill="#008080"/>
<rect x="1160.1" y="2379.1" width="4.8" height="10.3" fill="#008080"/>
<rect x="1160.1" y="2411.0" width="4.8" height="10.6" fill="#008080"/>
<rect x="1340.6" y="2504.4" width="28.8" height="4.8" rx="1.5" fill="#008080"/>
<rect x="1340.6" y="2527.6" width="28.8" height="4.8" rx="1.5" fill="#008080"/>
<rect x="1352.6" y="2496.8" width="4.8" height="10.0" fill="#008080"/>
<rect x="1352.6" y="2530.0" width="4.8" height="9.3" fill="#008080"/>
<rect x="1725.8" y="2666.9" width="28.8" height="4.8" rx="1.5" fill="#008080"/>
<rect x="1725.8" y="2687.1" width="28.8" height="4.8" rx="1.5" fill="#008080"/>
<rect x="1737.8" y="2658.1" width="4.8" height="11.2" fill="#008080"/>
<rect x="1737.8" y="2689.5" width="4.8" height="11.1" fill="#008080"/>
<rect x="377.9" y="1917.6" width="28.8" height="4.8" rx="1.5" fill="#9B0058"/>
<rect x="377.9" y="1946.6" width="28.8" height="4.8" rx="1.5" fill="#9B0058"/>
<rect x="389.9" y="1920.0" width="4.8" height="4.4" fill="#9B0058"/>
<rect x="389.9" y="1948.9" width="4.8" height="0.1" fill="#9B0058"/>
<rect x="474.2" y="1961.4" width="28.8" height="4.8" rx="1.5" fill="#9B0058"/>
<rect x="474.2" y="2010.4" width="28.8" height="4.8" rx="1.5" fill="#9B0058"/>
<rect x="486.2" y="1963.8" width="4.8" height="12.7" fill="#9B0058"/>
<rect x="486.2" y="2001.0" width="4.8" height="11.8" fill="#9B0058"/>
<rect x="570.5" y="2068.4" width="28.8" height="4.8" rx="1.5" fill="#9B0058"/>
<rect x="570.5" y="2121.6" width="28.8" height="4.8" rx="1.5" fill="#9B0058"/>
<rect x="582.5" y="2070.8" width="4.8" height="13.8" fill="#9B0058"/>
<rect x="582.5" y="2109.1" width="4.8" height="14.9" fill="#9B0058"/>
<rect x="666.7" y="2160.1" width="28.8" height="4.8" rx="1.5" fill="#9B0058"/>
<rect x="666.7" y="2189.6" width="28.8" height="4.8" rx="1.5" fill="#9B0058"/>
<rect x="678.7" y="2162.5" width="4.8" height="3.8" fill="#9B0058"/>
<rect x="678.7" y="2190.8" width="4.8" height="1.2" fill="#9B0058"/>
<rect x="955.6" y="2286.1" width="28.8" height="4.8" rx="1.5" fill="#9B0058"/>
<rect x="955.6" y="2349.0" width="28.8" height="4.8" rx="1.5" fill="#9B0058"/>
<rect x="967.6" y="2288.5" width="4.8" height="18.5" fill="#9B0058"/>
<rect x="967.6" y="2331.5" width="4.8" height="19.9" fill="#9B0058"/>
<rect x="1148.1" y="2388.1" width="28.8" height="4.8" rx="1.5" fill="#9B0058"/>
<rect x="1148.1" y="2445.2" width="28.8" height="4.8" rx="1.5" fill="#9B0058"/>
<rect x="1160.1" y="2390.5" width="4.8" height="15.5" fill="#9B0058"/>
<rect x="1160.1" y="2430.5" width="4.8" height="17.1" fill="#9B0058"/>
<rect x="1340.6" y="2455.8" width="28.8" height="4.8" rx="1.5" fill="#9B0058"/>
<rect x="1340.6" y="2492.0" width="28.8" height="4.8" rx="1.5" fill="#9B0058"/>
<rect x="1352.6" y="2458.2" width="4.8" height="8.0" fill="#9B0058"/>
<rect x="1352.6" y="2490.7" width="4.8" height="3.7" fill="#9B0058"/>
<rect x="1725.8" y="2710.6" width="28.8" height="4.8" rx="1.5" fill="#9B0058"/>
<rect x="1725.8" y="2786.0" width="28.8" height="4.8" rx="1.5" fill="#9B0058"/>
<rect x="1737.8" y="2713.0" width="4.8" height="23.0" fill="#9B0058"/>
<rect x="1737.8" y="2760.5" width="4.8" height="27.9" fill="#9B0058"/>
<path d="M392.3,1934.5 L414.8,1939.6 L437.2,1944.9 L459.7,1950.3 L482.2,1955.9 L504.6,1961.6 L527.1,1967.5 L549.5,1973.6 L572.0,1979.8 L594.5,1986.2 L616.9,1992.7 L639.4,1999.4 L661.9,2006.2 L684.3,2013.2 L706.8,2020.4 L729.3,2027.7 L751.7,2035.2 L774.2,2042.8 L796.7,2050.6 L819.1,2058.6 L841.6,2066.7 L864.0,2074.9 L886.5,2083.4 L909.0,2091.9 L931.4,2100.7 L953.9,2109.6 L976.4,2118.6 L998.8,2127.8 L1021.3,2137.2 L1043.8,2146.7 L1066.2,2156.4 L1088.7,2166.2 L1111.2,2176.2 L1133.6,2186.3 L1156.1,2196.7 L1178.5,2207.1 L1201.0,2217.7 L1223.5,2228.5 L1245.9,2239.5 L1268.4,2250.5 L1290.9,2261.8 L1313.3,2273.2 L1335.8,2284.8 L1358.3,2296.5 L1380.7,2308.4 L1403.2,2320.4 L1425.7,2332.6 L1448.1,2345.0 L1470.6,2357.5 L1493.0,2370.1 L1515.5,2383.0 L1538.0,2395.9 L1560.4,2409.1 L1582.9,2422.4 L1605.4,2435.8 L1627.8,2449.4 L1650.3,2463.2 L1672.8,2477.1 L1695.2,2491.2 L1717.7,2505.5 L1740.2,2519.9" fill="none" stroke="#404040" stroke-width="6.3" stroke-linecap="round" stroke-linejoin="round"/>
<path d="M392.3,1934.4 L414.8,1948.2 L437.2,1962.1 L459.7,1975.9 L482.2,1989.8 L504.6,2003.7 L527.1,2017.5 L549.5,2031.4 L572.0,2045.3 L594.5,2059.2 L616.9,2073.0 L639.4,2086.9 L661.9,2100.8 L684.3,2114.7 L706.8,2128.5 L729.3,2142.4 L751.7,2156.3 L774.2,2170.2 L796.7,2184.1 L819.1,2198.0 L841.6,2211.9 L864.0,2225.8 L886.5,2239.6 L909.0,2253.5 L931.4,2267.4 L953.9,2281.3 L976.4,2295.2 L998.8,2309.1 L1021.3,2323.0 L1043.8,2336.9 L1066.2,2350.8 L1088.7,2364.7 L1111.2,2378.6 L1133.6,2392.5 L1156.1,2406.5 L1178.5,2420.4 L1201.0,2434.3 L1223.5,2448.2 L1245.9,2462.1 L1268.4,2476.0 L1290.9,2489.9 L1313.3,2503.9 L1335.8,2517.8 L1358.3,2531.7 L1380.7,2545.6 L1403.2,2559.5 L1425.7,2573.5 L1448.1,2587.4 L1470.6,2601.3 L1493.0,2615.3 L1515.5,2629.2 L1538.0,2643.1 L1560.4,2657.1 L1582.9,2671.0 L1605.4,2684.9 L1627.8,2698.9 L1650.3,2712.8 L1672.8,2726.8 L1695.2,2740.7 L1717.7,2754.6 L1740.2,2768.6" fill="none" stroke="#008080" stroke-width="6.3" stroke-linecap="round" stroke-linejoin="round"/>
<path d="M392.3,1934.4 L414.8,1948.4 L437.2,1962.5 L459.7,1976.5 L482.2,1990.5 L504.6,2004.6 L527.1,2018.6 L549.5,2032.6 L572.0,2046.7 L594.5,2060.7 L616.9,2074.8 L639.4,2088.8 L661.9,2102.9 L684.3,2116.9 L706.8,2130.9 L729.3,2145.0 L751.7,2159.0 L774.2,2173.1 L796.7,2187.1 L819.1,2201.2 L841.6,2215.3 L864.0,2229.3 L886.5,2243.4 L909.0,2257.4 L931.4,2271.5 L953.9,2285.5 L976.4,2299.6 L998.8,2313.7 L1021.3,2327.7 L1043.8,2341.8 L1066.2,2355.8 L1088.7,2369.9 L1111.2,2384.0 L1133.6,2398.1 L1156.1,2412.1 L1178.5,2426.2 L1201.0,2440.3 L1223.5,2454.3 L1245.9,2468.4 L1268.4,2482.5 L1290.9,2496.6 L1313.3,2510.6 L1335.8,2524.7 L1358.3,2538.8 L1380.7,2552.9 L1403.2,2567.0 L1425.7,2581.0 L1448.1,2595.1 L1470.6,2609.2 L1493.0,2623.3 L1515.5,2637.4 L1538.0,2651.5 L1560.4,2665.6 L1582.9,2679.7 L1605.4,2693.7 L1627.8,2707.8 L1650.3,2721.9 L1672.8,2736.0 L1695.2,2750.1 L1717.7,2764.2 L1740.2,2778.3" fill="none" stroke="#9B0058" stroke-width="6.3" stroke-linecap="round" stroke-linejoin="round"/>
</g>
<rect x="1109" y="1907" width="802" height="229" fill="#000"/>
<rect x="1091" y="1889" width="802" height="229" fill="#fff" stroke="#000" stroke-width="2"/>
<text transform="translate(1249.10,1951.00) scale(0.96,1)" font-size="60.5" text-anchor="start" font-family="'Liberation Sans', sans-serif" font-weight="bold" xml:space="preserve">Photons</text>
<text transform="translate(1249.10,2024.10) scale(0.96,1)" font-size="60.5" text-anchor="start" font-family="'Liberation Sans', sans-serif" font-weight="bold" xml:space="preserve">MNP + Photons</text>
<text transform="translate(1249.10,2098.30) scale(0.96,1)" font-size="60.5" text-anchor="start" font-family="'Liberation Sans', sans-serif" font-weight="bold" xml:space="preserve">MNPs + Photons + Hyp</text>
<circle cx="1166.1" cy="1930.0" r="15.1" fill="#404040"/>
<polygon points="1166.0,1982.9 1184.2,2013.8 1147.8,2013.8" fill="#008080"/>
<polygon points="1166.1,2059.6 1170.0,2071.0 1182.1,2071.0 1172.3,2079.4 1176.6,2091.0 1166.1,2084.6 1155.6,2091.0 1159.9,2079.4 1150.1,2071.0 1162.2,2071.0" fill="#9B0058"/>
</g>
<text font-family="'Liberation Serif', serif" font-size="77"><tspan x="32.36" y="1678.4" textLength="23.59" lengthAdjust="spacingAndGlyphs">(</tspan><tspan x="56.11" y="1680.3" font-size="79" font-weight="bold" textLength="36.14" lengthAdjust="spacingAndGlyphs">a</tspan><tspan x="93.96" y="1678.4" textLength="23.59" lengthAdjust="spacingAndGlyphs">)</tspan></text>
<text font-family="'Liberation Serif', serif" font-size="77"><tspan x="32.36" y="3453.4" textLength="23.59" lengthAdjust="spacingAndGlyphs">(</tspan><tspan x="56.20" y="3455.3" font-size="79" font-weight="bold" textLength="43.94" lengthAdjust="spacingAndGlyphs">b</tspan><tspan x="102.16" y="3453.4" textLength="23.59" lengthAdjust="spacingAndGlyphs">)</tspan></text>
</svg></body></html>
